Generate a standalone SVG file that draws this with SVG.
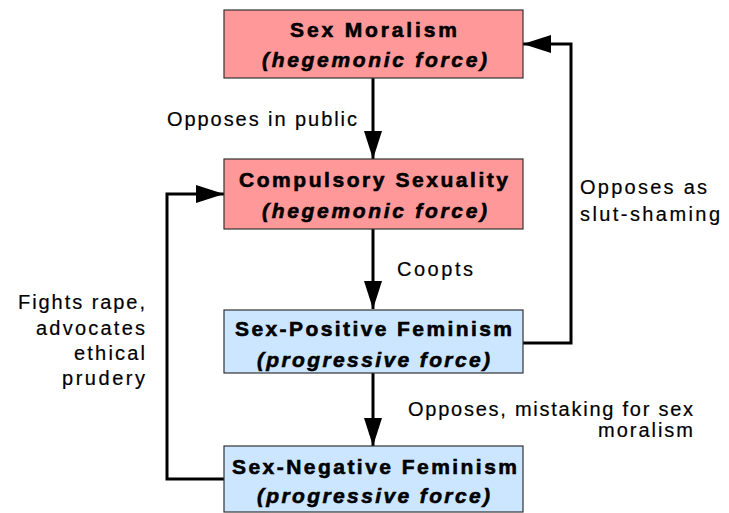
<svg xmlns="http://www.w3.org/2000/svg" width="729" height="513" viewBox="0 0 729 513">
<style>
.box rect{stroke:#333;stroke-width:1.2}
.hg{fill:#ff9999}
.pg{fill:#cce6ff}
.t{font-family:"Liberation Sans",Arial,sans-serif;font-weight:bold;font-size:21px;fill:#000;stroke:#000;stroke-width:0.6;text-anchor:middle}
.ti{font-style:italic}
.l{font-family:"Liberation Sans",Arial,sans-serif;font-size:20px;fill:#000;stroke:#000;stroke-width:0.2}
.c{fill:none;stroke:#000;stroke-width:3}
</style>
<defs>
<marker id="ah" markerWidth="28" markerHeight="18" refX="28" refY="9" orient="auto" markerUnits="userSpaceOnUse">
<path d="M0,0 L28,9 L0,18 Z" fill="#000"/>
</marker>
</defs>
<rect width="729" height="513" fill="#fff"/>
<g id="connectors">
<line class="c" x1="373" y1="78" x2="373" y2="159" marker-end="url(#ah)"/>
<line class="c" x1="373" y1="229" x2="373" y2="309" marker-end="url(#ah)"/>
<line class="c" x1="373" y1="373" x2="373" y2="446" marker-end="url(#ah)"/>
<polyline class="c" points="523,343 571,343 571,44 523,44" marker-end="url(#ah)"/>
<polyline class="c" points="224,479 167,479 167,194 224,194" marker-end="url(#ah)"/>
<text class="l" x="167" y="126" textLength="190" lengthAdjust="spacing">Opposes in public</text>
<text class="l" x="397" y="276" textLength="76" lengthAdjust="spacing">Coopts</text>
<text class="l" x="408" y="416" textLength="285" lengthAdjust="spacing">Opposes, mistaking for sex</text>
<text class="l" x="598" y="437" textLength="95" lengthAdjust="spacing">moralism</text>
<text class="l" x="580" y="194" textLength="127" lengthAdjust="spacing">Opposes as</text>
<text class="l" x="580" y="221" textLength="140" lengthAdjust="spacing">slut-shaming</text>
<text class="l" x="18" y="309" textLength="127" lengthAdjust="spacing">Fights rape,</text>
<text class="l" x="36" y="335" textLength="109" lengthAdjust="spacing">advocates</text>
<text class="l" x="74" y="360" textLength="71" lengthAdjust="spacing">ethical</text>
<text class="l" x="62" y="385" textLength="83" lengthAdjust="spacing">prudery</text>
</g>
<g id="sex-moralism" class="box">
<rect class="hg" x="224" y="10" width="299" height="68"/>
<text class="t" x="373.5" y="37" textLength="167" lengthAdjust="spacing">Sex Moralism</text>
<text class="t ti" x="374.5" y="67" textLength="225" lengthAdjust="spacing">(hegemonic force)</text>
</g>
<g id="compulsory-sexuality" class="box">
<rect class="hg" x="224" y="159" width="299" height="70"/>
<text class="t" x="373.5" y="187" textLength="269" lengthAdjust="spacing">Compulsory Sexuality</text>
<text class="t ti" x="374.5" y="218" textLength="225" lengthAdjust="spacing">(hegemonic force)</text>
</g>
<g id="sex-positive-feminism" class="box">
<rect class="pg" x="224" y="310" width="299" height="63"/>
<text class="t" x="373.5" y="336" textLength="277" lengthAdjust="spacing">Sex-Positive Feminism</text>
<text class="t ti" x="373.5" y="367" textLength="233" lengthAdjust="spacing">(progressive force)</text>
</g>
<g id="sex-negative-feminism" class="box">
<rect class="pg" x="224" y="446" width="299" height="66"/>
<text class="t" x="374.5" y="474" textLength="285" lengthAdjust="spacing">Sex-Negative Feminism</text>
<text class="t ti" x="373.5" y="503" textLength="233" lengthAdjust="spacing">(progressive force)</text>
</g>
</svg>
